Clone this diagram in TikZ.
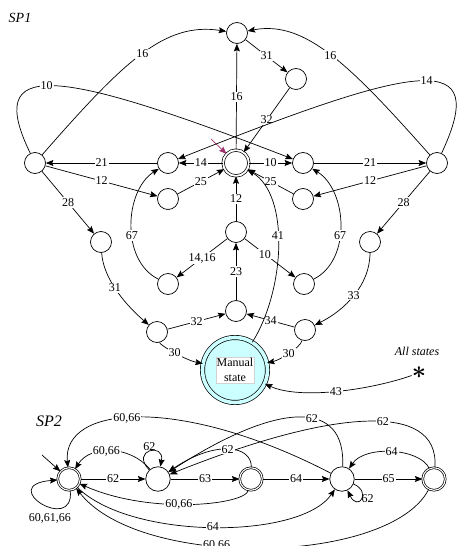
\documentclass[tikz,border=0pt]{standalone}
\usepackage{fontspec}
\setmainfont{Liberation Serif}
\usepackage{amsmath}
\usetikzlibrary{arrows.meta, positioning}
\definecolor{manualCyan}{RGB}{204,255,255}
\definecolor{initPurple}{RGB}{158,48,108}

\begin{document}
\begin{tikzpicture}[x=1pt, y=-1pt, >={Stealth[length=7.5pt,width=6pt,inset=1.2pt]},
    every node/.style={font=\fontsize{12}{15}\selectfont},
    stateNode/.style={draw, circle, line width=0.7pt, minimum size=21pt, inner sep=0pt},
    acceptNode/.style={stateNode, double, double distance=1.8pt, minimum size=25.8pt},
    bigState/.style={stateNode, minimum size=24.5pt},
    bigAccept/.style={stateNode, double, double distance=1.1pt, minimum size=22.5pt},
    manualNode/.style={stateNode, fill=manualCyan, double=manualCyan, double distance=3.6pt, minimum size=65pt},
    manualBox/.style={fill=white, draw=gray!35, line width=0.3pt, align=center, inner sep=1pt},
    trans/.style={->, line width=0.7pt},
    lbl/.style={fill=white, inner sep=1pt},
    title/.style={font=\fontsize{14}{14}\selectfont\itshape, inner sep=0pt}
]
    \useasboundingbox (0,0) rectangle (458,546);

    % SP1 states
    \node[title] (sp1) at (20,18) {SP1};
    \node[stateNode] (top) at (237,33) {};
    \node[stateNode] (topB) at (296,79) {};
    \node[acceptNode] (cen) at (236,163) {};
    \node[stateNode] (l1) at (168,163) {};
    \node[stateNode] (r1) at (303,163) {};
    \node[stateNode] (ll) at (35,163) {};
    \node[stateNode] (rr) at (437,163) {};
    \node[stateNode] (l2) at (168,199) {};
    \node[stateNode] (r2) at (303,199) {};
    \node[stateNode] (m1) at (236,232) {};
    \node[stateNode] (l3) at (168,284) {};
    \node[stateNode] (r3) at (304,284) {};
    \node[stateNode] (m2) at (236,311) {};
    \node[stateNode] (bl) at (157,332) {};
    \node[stateNode] (br) at (305,330) {};
    \node[stateNode] (lm) at (101,242) {};
    \node[stateNode] (rm) at (370,242) {};
    \node[manualNode] (man) at (235,370) {};
    \node[manualBox] (manTxt) at (man) {Manual\\state};
    \node[font=\fontsize{12}{14}\selectfont\itshape, inner sep=0pt] (allSt) at (417,351) {All states};
    \node[inner sep=0pt] (star) at (419,373) {\fontsize{28}{28}\selectfont$\boldsymbol{\ast}$};

    % initial state
    \coordinate (init1) at (211,139);
    \draw[trans, initPurple] (init1) -- (cen);

    % SP1 transitions
    \draw[trans] (ll) .. controls (125,60) and (165,22) .. (top) node[lbl, pos=0.5] {16};
    \draw[trans] (rr) .. controls (350,65) and (305,20) .. (top) node[lbl, pos=0.5] {16};
    \draw[trans] (top) -- (topB) node[lbl, midway] {31};
    \draw[trans] (topB) -- (cen) node[lbl, midway] {32};
    \draw[trans] (cen) -- (top) node[lbl, midway] {16};
    \draw[trans] (ll) .. controls (-15,60) and (50,65) .. (r1) node[lbl, pos=0.47] {10};
    \draw[trans] (rr) .. controls (490,50) and (422,62) .. (l1) node[lbl, pos=0.47] {14};
    \draw[trans] (cen) -- (l1) node[lbl, midway] {14};
    \draw[trans] (cen) -- (r1) node[lbl, midway] {10};
    \draw[trans] (l1) -- (ll) node[lbl, midway] {21};
    \draw[trans] (r1) -- (rr) node[lbl, midway] {21};
    \draw[trans] (ll) -- (l2) node[lbl, midway] {12};
    \draw[trans] (rr) -- (r2) node[lbl, midway] {12};
    \draw[trans] (l2) -- (cen) node[lbl, midway] {25};
    \draw[trans] (r2) -- (cen) node[lbl, midway] {25};
    \draw[trans] (m1) -- (cen) node[lbl, midway] {12};
    \draw[trans] (m1) -- (l3) node[lbl, midway] {14,16};
    \draw[trans] (m1) -- (r3) node[lbl, pos=0.4] {10};
    \draw[trans] (l3) .. controls (120,260) and (125,190) .. (l1) node[lbl, pos=0.42] {67};
    \draw[trans] (r3) .. controls (352,260) and (347,190) .. (r1) node[lbl, pos=0.42] {67};
    \draw[trans] (m2) -- (m1) node[lbl, midway] {23};
    \draw[trans] (bl) -- (m2) node[lbl, midway] {32};
    \draw[trans] (br) -- (m2) node[lbl, midway] {34};
    \draw[trans] (ll) -- (lm) node[lbl, midway] {28};
    \draw[trans] (rr) -- (rm) node[lbl, midway] {28};
    \draw[trans] (lm) .. controls (103,275) and (120,300) .. (bl) node[lbl, midway] {31};
    \draw[trans] (rm) .. controls (370,285) and (345,310) .. (br) node[lbl, midway] {33};
    \draw[trans] (bl) .. controls (160,345) and (185,360) .. (man) node[lbl, midway] {30};
    \draw[trans] (br) .. controls (300,348) and (280,360) .. (man) node[lbl, midway] {30};
    \draw[trans] (man) .. controls (285,290) and (290,195) .. (cen) node[lbl, pos=0.55] {41};
    \draw[trans] (star) .. controls (370,390) and (300,400) .. (man) node[lbl, midway] {43};

    % SP2 states
    \node[title, font=\fontsize{16}{16}\selectfont\itshape] (sp2) at (49,421) {SP2};
    \node[bigAccept] (s0) at (69,479) {};
    \node[bigState] (s1) at (158,479) {};
    \node[bigAccept] (s2) at (251,479) {};
    \node[bigState] (s3) at (342,479) {};
    \node[bigAccept] (s4) at (434,479) {};
    \coordinate (init2) at (42,455);
    \draw[trans] (init2) -- (s0);

    % SP2 transitions
    \draw[trans] (s0) .. controls (75,535) and (-5,485) .. (s0) node[pos=0.4, below=6pt, inner sep=0pt] {60,61,66};
    \draw[trans] (s1) .. controls (130,450) and (165,442) .. (s1) node[pos=0.5, above=1pt, inner sep=0pt] {62};
    \draw[trans] (s3) .. controls (372,492) and (358,512) .. (s3) node[pos=0.5, right=-1pt, inner sep=1pt] {62};
    \draw[trans] (s0) -- (s1) node[lbl, midway] {62};
    \draw[trans] (s1) -- (s2) node[lbl, midway] {63};
    \draw[trans] (s2) -- (s3) node[lbl, midway] {64};
    \draw[trans] (s3) -- (s4) node[lbl, midway] {65};
    \draw[trans] (s1) .. controls (130,445) and (90,445) .. (s0) node[lbl, pos=0.55] {60,66};
    \draw[trans] (s3) .. controls (180,395) and (62,405) .. (s0) node[lbl, pos=0.55] {60,66};
    \draw[trans] (s3) .. controls (346,400) and (280,400) .. (s1) node[lbl, pos=0.42] {62};
    \draw[trans] (s4) .. controls (440,400) and (330,410) .. (s1) node[lbl, pos=0.43] {62};
    \draw[trans] (s2) .. controls (252,445) and (215,440) .. (s1) node[lbl, pos=0.5] {62};
    \draw[trans] (s2) .. controls (245,505) and (150,515) .. (s0) node[lbl, pos=0.55] {60,66};
    \draw[trans] (s0) .. controls (130,540) and (300,540) .. (s3) node[lbl, pos=0.5] {64};
    \draw[trans] (s4) .. controls (390,565) and (140,570) .. (s0) node[lbl, pos=0.6] {60,66};
    \draw[trans] (s4) .. controls (420,448) and (365,445) .. (s3) node[lbl, pos=0.5] {64};
\end{tikzpicture}
\end{document}
